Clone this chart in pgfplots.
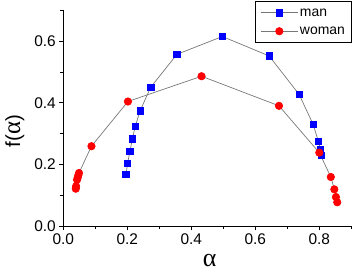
\documentclass[border=0pt]{standalone}
\usepackage{fontspec}
\setmainfont{Liberation Sans}
\newfontfamily\grk{Liberation Serif}
\usepackage{pgfplots}
\pgfplotsset{compat=1.18}
\definecolor{lgray}{RGB}{120,120,120}
\begin{document}
\begin{tikzpicture}
\useasboundingbox (-63.3bp,-44bp) rectangle (291.7bp,226bp);
\begin{axis}[
  at={(0,0)}, anchor=south west,
  scale only axis, width=288bp, height=215.7bp,
  xmin=0, xmax=0.9, ymin=0, ymax=0.7,
  axis lines*=left,
  axis line style={line width=0.8bp},
  tick align=outside,
  xtick={0,0.2,0.4,0.6,0.8}, ytick={0,0.2,0.4,0.6},
  minor xtick={0.1,0.3,0.5,0.7,0.9}, minor ytick={0.1,0.3,0.5,0.7},
  major tick length=4bp, minor tick length=3bp,
  every tick/.style={black, line width=0.8bp},
  /pgf/number format/assume math mode=true,
  /pgf/number format/fixed, /pgf/number format/precision=1, /pgf/number format/fixed zerofill,
  tick label style={font=\fontsize{15.5}{17}\selectfont},
  xlabel={\grk\fontsize{26}{28}\selectfont α},
  ylabel={f(\grk\fontsize{25}{28}\selectfont α\fontsize{20.5}{24}\selectfont\rmfamily)},
  xlabel style={at={(axis description cs:0.508,-0.162)}, anchor=center, inner sep=0pt},
  ylabel style={font=\fontsize{20.5}{24}\selectfont, at={(axis description cs:-0.168,0.441)}, anchor=center, inner sep=0pt},
  legend style={at={(axis description cs:1.0025,1.042)}, anchor=north east, draw=black, line width=0.6bp,
    font=\fontsize{14}{16}\selectfont, inner xsep=5bp, inner ysep=3bp, row sep=1.8bp,
    nodes={inner sep=1.8bp, text height=10bp, text depth=3bp}},
  legend cell align=left,
  legend image code/.code={\draw[mark repeat=2,mark phase=2] plot coordinates {(0bp,0bp) (18.5bp,0bp) (37bp,0bp)};},
]
\addplot[lgray, line width=0.7bp, mark=square*, mark size=3.2bp, mark options={draw=blue, fill=blue, solid}] coordinates {
(0.196,0.168) (0.201,0.203) (0.208,0.242) (0.216,0.283) (0.225,0.324) (0.240,0.374)
(0.273,0.450) (0.355,0.557) (0.497,0.615) (0.643,0.552) (0.737,0.427) (0.781,0.329)
(0.797,0.275) (0.804,0.248) (0.807,0.229)
};
\addlegendentry{man}
\addplot[lgray, line width=0.7bp, mark=*, mark size=3.7bp, mark options={draw=red, fill=red, solid}] coordinates {
(0.039,0.121) (0.040,0.129) (0.043,0.150) (0.045,0.157) (0.047,0.165) (0.049,0.172)
(0.088,0.259) (0.202,0.404) (0.432,0.486) (0.674,0.390) (0.800,0.238) (0.836,0.159)
(0.847,0.119) (0.852,0.094) (0.856,0.077)
};
\addlegendentry{woman}
\end{axis}
\end{tikzpicture}
\end{document}
